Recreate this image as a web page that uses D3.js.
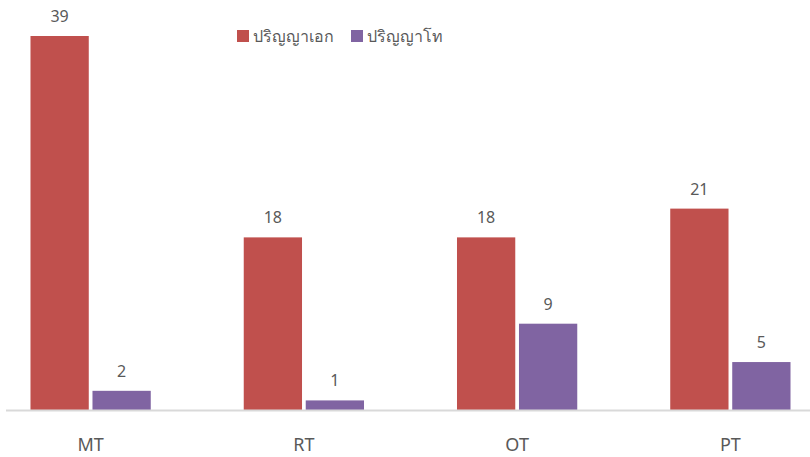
<!DOCTYPE html>
<html>
<head>
<meta charset="utf-8">
<script src="https://cdn.jsdelivr.net/npm/d3@7"></script>
<style>
  body { margin: 0; background: #fff; }
  text { font-family: "Noto Sans", "Open Sans", sans-serif; }
</style>
</head>
<body>
<div id="chart-area"></div>
<script>
// data
var categories = ["MT", "RT", "OT", "PT"];
var seriesNames = ["ปริญญาเอก", "ปริญญาโท"];
var phdValues = [39, 18, 18, 21];
var masterValues = [2, 1, 9, 5];
var colors = ["#C0504D", "#8064A2"];

var width = 810, height = 457;
var baseline = 410;

var svg = d3.select("#chart-area")
    .append("svg")
    .attr("width", width)
    .attr("height", height);

// Scales
var x0 = d3.scaleBand().domain(categories).range([-16, 837]).paddingInner(0).paddingOuter(0);
var x1 = d3.scaleBand().domain(seriesNames).range([0, x0.bandwidth()]).paddingInner(0.06).paddingOuter(0.75);
var y = d3.scaleLinear().domain([0, 39]).range([baseline, 36]);

var rows = categories.map(function(c, i) {
    return { cat: c, vals: [phdValues[i], masterValues[i]] };
});

// Bars
var groups = svg.selectAll(".group")
    .data(rows)
    .enter().append("g")
    .attr("class", "group")
    .attr("transform", function(d) { return "translate(" + x0(d.cat) + ",0)"; });

groups.selectAll("rect")
    .data(function(d) { return d.vals.map(function(v, j) { return { s: seriesNames[j], v: v, j: j }; }); })
    .enter().append("rect")
    .attr("x", function(d) { return x1(d.s); })
    .attr("y", function(d) { return y(d.v); })
    .attr("width", x1.bandwidth())
    .attr("height", function(d) { return baseline - y(d.v); })
    .attr("fill", function(d) { return colors[d.j]; });

groups.selectAll(".val")
    .data(function(d) { return d.vals.map(function(v, j) { return { s: seriesNames[j], v: v }; }); })
    .enter().append("text")
    .attr("class", "val")
    .attr("x", function(d) { return x1(d.s) + x1.bandwidth() / 2; })
    .attr("y", function(d) { return y(d.v) - 14; })
    .attr("text-anchor", "middle")
    .attr("font-size", "16px")
    .attr("fill", "#595959")
    .text(function(d) { return d.v; });

// X axis
var xAxis = svg.append("g")
    .attr("transform", "translate(0," + baseline + ")")
    .call(d3.axisBottom(x0).tickSize(0).tickPadding(28));
xAxis.select(".domain").remove();
xAxis.append("line")
    .attr("x1", 6).attr("x2", 810)
    .attr("y1", 0.5).attr("y2", 0.5)
    .attr("stroke", "#D9D9D9")
    .attr("stroke-width", 2);
xAxis.selectAll(".tick text")
    .attr("font-size", "18px")
    .attr("fill", "#595959")
    .style("font-family", "'Noto Sans', 'Open Sans', sans-serif");

// Legend
var legend = svg.append("g").attr("transform", "translate(237,30)");
var legX = [0, 114];
seriesNames.forEach(function(name, i) {
    var item = legend.append("g").attr("transform", "translate(" + legX[i] + ",0)");
    item.append("rect").attr("width", 12).attr("height", 12).attr("fill", colors[i]);
    item.append("text")
        .attr("x", 16).attr("y", 12)
        .attr("font-size", "16px")
        .attr("fill", "#595959")
        .text(name);
});
</script>
</body>
</html>
